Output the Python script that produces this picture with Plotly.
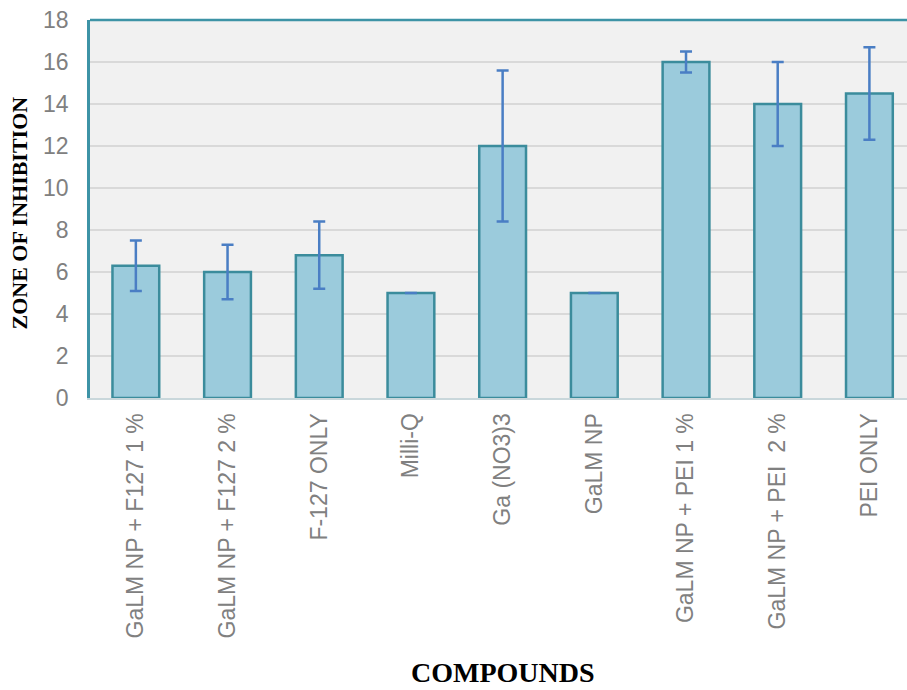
import plotly.graph_objects as go

# Zone of inhibition per compound (mean and standard deviation)
compounds = [
    "GaLM NP + F127 1 %",
    "GaLM NP + F127 2 %",
    "F-127 ONLY",
    "Milli-Q",
    "Ga (NO3)3",
    "GaLM NP",
    "GaLM NP + PEI 1 %",
    "GaLM NP + PEI  2 %",
    "PEI ONLY",
]
zone_mean = [6.3, 6.0, 6.8, 5.0, 12.0, 5.0, 16.0, 14.0, 14.5]
zone_sd = [1.2, 1.3, 1.6, 0.0, 3.6, 0.0, 0.5, 2.0, 2.2]
y_ticks = [0, 2, 4, 6, 8, 10, 12, 14, 16, 18]

teal = "#3d93a6"
sans = "Liberation Sans, Arial, sans-serif"
title_font = dict(family="Liberation Serif, Times New Roman, serif", color="#000000")

fig = go.Figure(
    go.Bar(
        x=compounds,
        y=zone_mean,
        width=0.51,
        marker=dict(color="#9bcbdc", line=dict(color="#3b8c9c", width=2.5)),
        error_y=dict(type="data", array=zone_sd, visible=True,
                     color="#4a7ec4", thickness=2.5, width=6),
    )
)

fig.update_layout(
    width=907,
    height=690,
    margin=dict(l=90, r=0, t=20, b=292),
    paper_bgcolor="#ffffff",
    plot_bgcolor="#f1f1f1",
    showlegend=False,
    shapes=[
        dict(type="line", xref="paper", yref="paper", x0=0, x1=1, y0=1, y1=1,
             line=dict(color=teal, width=2.5)),
    ],
    annotations=[
        dict(text="<b>ZONE OF INHIBITION</b>", xref="paper", yref="paper",
             x=-0.086, y=0.49, xanchor="center", yanchor="middle", textangle=-90,
             showarrow=False, font=dict(size=22, **title_font)),
        dict(text="<b>COMPOUNDS</b>", xref="paper", yref="paper",
             x=0.505, y=-0.725, xanchor="center", yanchor="middle",
             showarrow=False, font=dict(size=28, **title_font)),
    ],
)

fig.update_xaxes(
    type="category",
    range=[-0.5, 8.41],
    tickangle=-90,
    tickfont=dict(family=sans, size=23, color="#808080"),
    ticklabelstandoff=4,
    showline=True,
    linecolor="#c9d7db",
    linewidth=2,
    showgrid=False,
    ticks="",
)

fig.update_yaxes(
    range=[0, 18],
    tickvals=y_ticks,
    tickfont=dict(family=sans, size=23, color="#808080"),
    ticklabelstandoff=14,
    showline=True,
    linecolor=teal,
    linewidth=2.5,
    gridcolor="#d9d9d9",
    gridwidth=2,
    zeroline=False,
    ticks="",
)

fig.write_html("out.html")
